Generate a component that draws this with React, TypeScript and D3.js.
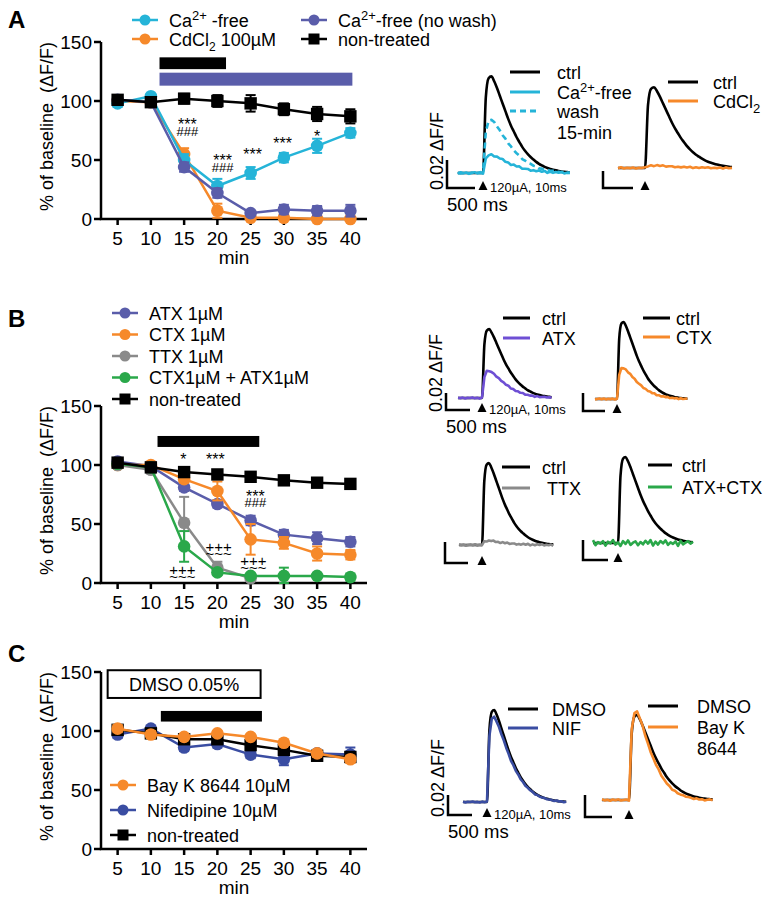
import React from 'react';
import * as d3 from 'd3';

const FONT = "'Liberation Sans', Arial, Helvetica, sans-serif";

// ---------------- time-course data ----------------
const MINUTES = [5, 10, 15, 20, 25, 30, 35, 40];
const X_TICKS = [5, 10, 15, 20, 25, 30, 35, 40];
const Y_TICKS = [0, 50, 100, 150];

// Panel A
const A_CAFREE = [98, 104, 50, 28, 39, 52, 62, 73];
const A_CAFREE_ERR = [3, 2, 5, 6, 5, 4, 6, 4];
const A_CDCL2 = [100, 99, 55, 7, 1, 1, 0, 0];
const A_CDCL2_ERR = [2, 2, 5, 6, 2, 2, 1, 1];
const A_NOWASH = [101, 99, 44, 22, 5, 8, 7, 7];
const A_NOWASH_ERR = [3, 2, 4, 4, 2, 4, 4, 5];
const A_NONTREATED = [101, 99, 102, 100, 98, 93, 89, 87];
const A_NONTREATED_ERR = [3, 2, 4, 5, 7, 5, 6, 6];

// Panel B
const B_ATX = [103, 99, 81, 67, 53, 41, 38, 35];
const B_ATX_ERR = [2, 2, 3, 3, 4, 4, 5, 4];
const B_CTX = [100, 100, 88, 78, 37, 34, 25, 24];
const B_CTX_ERR = [2, 2, 3, 8, 13, 5, 6, 4];
const B_TTX = [100, 96, 51, 13, 4];
const B_TTX_ERR = [2, 3, 22, 5, 2];
const B_COMBO = [101, 98, 31, 9, 6, 6, 6, 5];
const B_COMBO_ERR = [3, 2, 13, 2, 2, 7, 2, 3];
const B_NONTREATED = [102, 98, 94, 92, 90, 87, 85, 84];
const B_NONTREATED_ERR = [2, 2, 3, 3, 2, 2, 3, 3];

// Panel C
const C_BAYK = [102, 97, 95, 98, 95, 90, 81, 76];
const C_BAYK_ERR = [3, 3, 2, 2, 2, 2, 3, 3];
const C_NIF = [97, 102, 86, 89, 80, 76, 81, 80];
const C_NIF_ERR = [3, 2, 3, 3, 3, 5, 3, 6];
const C_NONTREATED = [101, 98, 93, 93, 88, 84, 79, 78];
const C_NONTREATED_ERR = [2, 2, 2, 2, 2, 3, 3, 3];

// ---------------- example traces (ΔF/F) ----------------
const TRACE_T = d3.range(-500, 1701, 50);
const CTRL_SHAPE = [0, 0, 0, 0, 0, 0, 0, 0, 0, 0, 0,
  0.78, 0.98, 1.0, 0.95, 0.88, 0.80, 0.72, 0.64, 0.56, 0.49,
  0.43, 0.37, 0.32, 0.27, 0.23, 0.195, 0.165, 0.14, 0.115, 0.095,
  0.078, 0.064, 0.052, 0.042, 0.034, 0.027, 0.021, 0.016, 0.012, 0.009,
  0.006, 0.004, 0.002, 0.001];
const FAST_SHAPE = [0, 0, 0, 0, 0, 0, 0, 0, 0, 0, 0,
  0.80, 0.99, 1.0, 0.93, 0.84, 0.74, 0.64, 0.55, 0.47, 0.40,
  0.34, 0.28, 0.23, 0.19, 0.155, 0.125, 0.10, 0.08, 0.063, 0.05,
  0.039, 0.03, 0.023, 0.017, 0.012, 0.008, 0.005, 0.003, 0.002, 0.001,
  0, 0, 0, 0];
const TRACE_NOISE = [0.2, -0.6, 0.8, -0.3, 0.5, -0.9, 0.1, 0.7, -0.4, 0.9, -0.7, 0.3, -0.2, 0.6, -0.8, 0.4,
  -0.1, 0.9, -0.5, 0.2, -0.9, 0.6, -0.3, 0.8, -0.6, 0.1, 0.5, -0.7, 0.3, -0.4, 0.7, -0.2, 0.9, -0.8,
  0.4, -0.5, 0.6, -0.1, 0.8, -0.6, 0.2, -0.3, 0.5, -0.9, 0.7, -0.4, 0.1, 0.6, -0.2, 0.4];

const A1_AMPS = [0.069, 0.013, 0.038]; // ctrl, Ca-free, wash
const A2_AMPS = [0.095, 0.003]; // ctrl, CdCl2
const B1_AMPS = [0.081, 0.032]; // ctrl, ATX
const B2_AMPS = [0.0856, 0.0344]; // ctrl, CTX
const B3_AMPS = [0.078, 0.004]; // ctrl, TTX
const B4_AMPS = [0.086, 0]; // ctrl, ATX+CTX
const C1_AMPS = [0.092, 0.085]; // DMSO, NIF
const C2_AMPS = [0.0773, 0.080]; // DMSO, Bay K

// ---------------- colours ----------------
const BLACK = '#000000';
const CYAN = '#25B4D8';
const ORANGE = '#F6892A';
const PURPLE = '#5A5DAA';
const GRAY = '#8A8A8A';
const GREEN = '#2AA84A';
const BLUE = '#3A4DA2';
const VIOLET = '#6E4FD4';

// ---------------- layout ----------------
const AX_LEFT = 101;
const AX_RIGHT = 367;
const PLOT_H = 177;

function caFree(gap: boolean, rest: string, size: number) {
  return [
    <tspan key="a">Ca</tspan>,
    <tspan key="b" dy={-7} fontSize={size * 0.72}>2+</tspan>,
    <tspan key="c" dy={7}>{(gap ? '\u00A0-free' : '-free') + rest}</tspan>,
  ];
}

function Marker({ kind, cx, cy, color, r }: any) {
  if (kind === 'square') {
    return <rect x={cx - r} y={cy - r} width={2 * r} height={2 * r} fill={color} />;
  }
  return <circle cx={cx} cy={cy} r={r} fill={color} />;
}

function glyphOffset(c: string) {
  return c === '*' ? 0.62 : c === '#' ? 0.36 : c === '+' ? 0.34 : 0.3;
}

function TimePlot({ y0, series, bars, box, annos }: any) {
  const x = d3.scaleLinear().domain([2.5, 42.5]).range([AX_LEFT, AX_RIGHT]);
  const y = d3.scaleLinear().domain([0, 150]).range([y0, y0 - PLOT_H]);
  const line = d3.line<number>().x((_, i) => x(MINUTES[i])).y((d) => y(d));
  return (
    <g>
      {(bars || []).map((b: any, i: number) => (
        <rect key={'bar' + i} x={x(b.from)} y={y(b.top)} width={x(b.to) - x(b.from)}
          height={y(b.bottom) - y(b.top)} fill={b.color} />
      ))}
      {box && (
        <g>
          <rect x={x(box.from)} y={y(box.top)} width={x(box.to) - x(box.from)}
            height={y(box.bottom) - y(box.top)} fill="#fff" stroke="#000" strokeWidth={2} />
          <text x={(x(box.from) + x(box.to)) / 2} y={(y(box.top) + y(box.bottom)) / 2 + 6.5}
            textAnchor="middle" fontSize={18}>{box.label}</text>
        </g>
      )}
      <line x1={AX_LEFT - 1.25} x2={AX_RIGHT} y1={y0} y2={y0} stroke="#000" strokeWidth={2.5} />
      <line x1={AX_LEFT} x2={AX_LEFT} y1={y0} y2={y(150)} stroke="#000" strokeWidth={2.5} />
      {Y_TICKS.map((t) => (
        <g key={'yt' + t}>
          <line x1={AX_LEFT - 7} x2={AX_LEFT} y1={y(t)} y2={y(t)} stroke="#000" strokeWidth={2.5} />
          <text x={AX_LEFT - 9} y={y(t) + 7} textAnchor="end" fontSize={19}>{t}</text>
        </g>
      ))}
      {X_TICKS.map((t) => (
        <g key={'xt' + t}>
          <line x1={x(t)} x2={x(t)} y1={y0} y2={y0 + 6} stroke="#000" strokeWidth={2.5} />
          <text x={x(t)} y={y0 + 26} textAnchor="middle" fontSize={19}>{t}</text>
        </g>
      ))}
      <text x={234} y={y0 + 45} textAnchor="middle" fontSize={19}>min</text>
      <text transform={`translate(53,${y0 - PLOT_H / 2 - 4}) rotate(-90)`} textAnchor="middle" fontSize={18}>
        {'% of baseline\u00A0\u00A0(ΔF/F)'}
      </text>
      {series.map((s: any) => (
        <g key={s.name}>
          <path d={line(s.values) || ''} fill="none" stroke={s.color} strokeWidth={2.5} />
          {s.values.map((v: number, i: number) => {
            const e = s.err[i];
            const cx = x(MINUTES[i]);
            const lo = Math.max(0, v - e);
            return (
              <g key={'e' + i} stroke={s.color} strokeWidth={2}>
                <line x1={cx} x2={cx} y1={y(lo)} y2={y(v + e)} />
                <line x1={cx - 5} x2={cx + 5} y1={y(v + e)} y2={y(v + e)} />
                <line x1={cx - 5} x2={cx + 5} y1={y(lo)} y2={y(lo)} />
              </g>
            );
          })}
          {s.values.map((v: number, i: number) => (
            <Marker key={'m' + i} kind={s.marker} cx={x(MINUTES[i])} cy={y(v)} color={s.color} r={s.marker === 'square' ? 6.2 : 6.3} />
          ))}
        </g>
      ))}
      {(annos || []).map((a: any, i: number) => (
        <text key={'an' + i} x={x(a.x)} textAnchor="middle">
          {a.lines.map((l: any, j: number) => (
            <tspan key={j} x={x(a.x)} y={y(l.y) + l.size * glyphOffset(l.text[0])} fontSize={l.size}>{l.text}</tspan>
          ))}
        </text>
      ))}
    </g>
  );
}

function PlotLegend({ items }: any) {
  return (
    <g>
      {items.map((it: any, i: number) => (
        <g key={i}>
          <line x1={it.x} x2={it.x + 26} y1={it.y} y2={it.y} stroke={it.color} strokeWidth={2.5} />
          <Marker kind={it.marker} cx={it.x + 13} cy={it.y} color={it.color} r={5.5} />
          <text x={it.x + 37} y={it.y + 6.5} fontSize={18}>{it.label}</text>
        </g>
      ))}
    </g>
  );
}

function TracePanel({ cfg }: any) {
  const x = d3.scaleLinear().domain([0, 500]).range([cfg.onset, cfg.onset + cfg.barW]);
  const y = d3.scaleLinear().domain([0, 0.02]).range([cfg.base, cfg.base - cfg.barH]);
  const [cx, cy] = cfg.corner;
  return (
    <g>
      {cfg.traces.map((tr: any, k: number) => {
        const pts: [number, number][] = [];
        TRACE_T.forEach((t, i) => {
          if (t < cfg.t0 || t > cfg.t1) return;
          const n = TRACE_NOISE[(i + (tr.offset || 0)) % TRACE_NOISE.length] * (tr.noise || 0);
          pts.push([x(t), y(tr.amp * tr.shape[i] + n)]);
        });
        const gen = d3.line().curve(tr.noise ? d3.curveLinear : d3.curveMonotoneX);
        return (
          <path key={k} d={gen(pts) || ''} fill="none" stroke={tr.color} strokeWidth={2.6}
            strokeDasharray={tr.dash ? '6,4' : undefined} strokeLinejoin="round" />
        );
      })}
      <path d={`M${cx},${cy - cfg.barH}V${cy}H${cx + cfg.barW}`} fill="none" stroke="#000" strokeWidth={2.5} />
      <path d={`M${cfg.onset},${cy - 7}L${cfg.onset + 4.5},${cy + 2}L${cfg.onset - 4.5},${cy + 2}Z`} fill="#000" />
      {cfg.stimLabel && (
        <text x={cfg.onset + 7} y={cy + 3.5} fontSize={13}>120µA, 10ms</text>
      )}
      {cfg.scaleLabel && (
        <g>
          <text transform={`translate(${cx - 4},${cy + 2}) rotate(-90)`} fontSize={18}>0.02 ΔF/F</text>
          <text x={cx} y={cy + 23} fontSize={18.5}>500 ms</text>
        </g>
      )}
      {cfg.legend.rows.map((r: any, i: number) => (
        <g key={'lg' + i}>
          {r.color && (
            <line x1={cfg.legend.x0} x2={cfg.legend.x1} y1={r.y} y2={r.y} stroke={r.color}
              strokeWidth={3} strokeDasharray={r.dash ? '6,4' : undefined} />
          )}
          <text x={cfg.legend.tx + (r.dx || 0)} y={r.y + 6.5} fontSize={18}>{r.label}</text>
        </g>
      ))}
    </g>
  );
}

const TRACE_PANELS = [
  {
    onset: 483, base: 173, corner: [447, 188], barW: 28, barH: 28, t0: -450, t1: 1550,
    stimLabel: true, scaleLabel: true,
    traces: [
      { shape: CTRL_SHAPE, amp: A1_AMPS[0], color: BLACK },
      { shape: CTRL_SHAPE, amp: A1_AMPS[2], color: CYAN, dash: true, noise: 0.0004, offset: 3 },
      { shape: CTRL_SHAPE, amp: A1_AMPS[1], color: CYAN, noise: 0.0007, offset: 0 },
    ],
    legend: {
      x0: 510, x1: 540, tx: 557, rows: [
        { y: 72, color: BLACK, label: 'ctrl' },
        { y: 92, color: CYAN, label: caFree(false, '', 18) },
        { y: 111, color: CYAN, dash: true, label: 'wash' },
        { y: 132, label: '15-min' },
      ],
    },
  },
  {
    onset: 645, base: 168, corner: [603, 188], barW: 30, barH: 17, t0: -450, t1: 1450,
    traces: [
      { shape: CTRL_SHAPE, amp: A2_AMPS[0], color: BLACK },
      { shape: CTRL_SHAPE, amp: A2_AMPS[1], color: ORANGE, noise: 0.0009, offset: 7 },
    ],
    legend: {
      x0: 668, x1: 698, tx: 713, rows: [
        { y: 82, color: BLACK, label: 'ctrl' },
        { y: 101, color: ORANGE, label: [<tspan key="a">CdCl</tspan>, <tspan key="b" dy={5} fontSize={13}>2</tspan>] },
      ],
    },
  },
  {
    onset: 482, base: 398, corner: [446, 410], barW: 24, barH: 17, t0: -500, t1: 1450,
    stimLabel: true, scaleLabel: true,
    traces: [
      { shape: CTRL_SHAPE, amp: B1_AMPS[0], color: BLACK },
      { shape: CTRL_SHAPE, amp: B1_AMPS[1], color: VIOLET, noise: 0.0008, offset: 11 },
    ],
    legend: {
      x0: 503, x1: 530, tx: 542, rows: [
        { y: 318, color: BLACK, label: 'ctrl' },
        { y: 338, color: VIOLET, label: 'ATX' },
      ],
    },
  },
  {
    onset: 617, base: 399, corner: [583, 411], barW: 22, barH: 18, t0: -700, t1: 1600,
    traces: [
      { shape: CTRL_SHAPE, amp: B2_AMPS[0], color: BLACK },
      { shape: CTRL_SHAPE, amp: B2_AMPS[1], color: ORANGE, noise: 0.0007, offset: 5 },
    ],
    legend: {
      x0: 643, x1: 670, tx: 676, rows: [
        { y: 318, color: BLACK, label: 'ctrl' },
        { y: 337, color: ORANGE, label: 'CTX' },
      ],
    },
  },
  {
    onset: 482, base: 545, corner: [445, 563], barW: 23, barH: 21, t0: -500, t1: 1550,
    traces: [
      { shape: CTRL_SHAPE, amp: B3_AMPS[0], color: BLACK },
      { shape: CTRL_SHAPE, amp: B3_AMPS[1], color: GRAY, noise: 0.0008, offset: 2 },
    ],
    legend: {
      x0: 502, x1: 530, tx: 542, rows: [
        { y: 467, color: BLACK, label: 'ctrl' },
        { y: 488, color: GRAY, label: 'TTX', dx: 5 },
      ],
    },
  },
  {
    onset: 618, base: 543, corner: [583, 560], barW: 25, barH: 20, t0: -500, t1: 1500,
    traces: [
      { shape: CTRL_SHAPE, amp: B4_AMPS[0], color: BLACK },
      { shape: CTRL_SHAPE, amp: B4_AMPS[1], color: GREEN, noise: 0.0032, offset: 9 },
    ],
    legend: {
      x0: 648, x1: 672, tx: 682, rows: [
        { y: 465, color: BLACK, label: 'ctrl' },
        { y: 487, color: GREEN, label: 'ATX+CTX' },
      ],
    },
  },
  {
    onset: 487, base: 802, corner: [448, 815], barW: 24, barH: 20, t0: -500, t1: 1650,
    stimLabel: true, scaleLabel: true,
    traces: [
      { shape: CTRL_SHAPE, amp: C1_AMPS[0], color: BLACK },
      { shape: CTRL_SHAPE, amp: C1_AMPS[1], color: BLUE, noise: 0.0006, offset: 13 },
    ],
    legend: {
      x0: 508, x1: 538, tx: 552, rows: [
        { y: 709, color: BLACK, label: 'DMSO' },
        { y: 728, color: BLUE, label: 'NIF' },
      ],
    },
  },
  {
    onset: 629, base: 800, corner: [585, 817], barW: 27, barH: 22, t0: -500, t1: 1550,
    traces: [
      { shape: CTRL_SHAPE, amp: C2_AMPS[0], color: BLACK },
      { shape: FAST_SHAPE, amp: C2_AMPS[1], color: ORANGE, noise: 0.0007, offset: 17 },
    ],
    legend: {
      x0: 648, x1: 678, tx: 697, rows: [
        { y: 706, color: BLACK, label: 'DMSO' },
        { y: 727, color: ORANGE, label: 'Bay K' },
        { y: 748, label: '8644' },
      ],
    },
  },
];

export default function App() {
  const seriesA = [
    { name: 'cd', values: A_CDCL2, err: A_CDCL2_ERR, color: ORANGE, marker: 'circle' },
    { name: 'cafree', values: A_CAFREE, err: A_CAFREE_ERR, color: CYAN, marker: 'circle' },
    { name: 'nowash', values: A_NOWASH, err: A_NOWASH_ERR, color: PURPLE, marker: 'circle' },
    { name: 'nt', values: A_NONTREATED, err: A_NONTREATED_ERR, color: BLACK, marker: 'square' },
  ];
  const seriesB = [
    { name: 'atx', values: B_ATX, err: B_ATX_ERR, color: PURPLE, marker: 'circle' },
    { name: 'ctx', values: B_CTX, err: B_CTX_ERR, color: ORANGE, marker: 'circle' },
    { name: 'ttx', values: B_TTX, err: B_TTX_ERR, color: GRAY, marker: 'circle' },
    { name: 'combo', values: B_COMBO, err: B_COMBO_ERR, color: GREEN, marker: 'circle' },
    { name: 'nt', values: B_NONTREATED, err: B_NONTREATED_ERR, color: BLACK, marker: 'square' },
  ];
  const seriesC = [
    { name: 'nif', values: C_NIF, err: C_NIF_ERR, color: BLUE, marker: 'circle' },
    { name: 'nt', values: C_NONTREATED, err: C_NONTREATED_ERR, color: BLACK, marker: 'square' },
    { name: 'bayk', values: C_BAYK, err: C_BAYK_ERR, color: ORANGE, marker: 'circle' },
  ];
  const annosA = [
    { x: 15.5, lines: [{ y: 84, text: '***', size: 16 }, { y: 74, text: '###', size: 13 }] },
    { x: 20.8, lines: [{ y: 53, text: '***', size: 16 }, { y: 44, text: '###', size: 13 }] },
    { x: 25.3, lines: [{ y: 58, text: '***', size: 16 }] },
    { x: 29.8, lines: [{ y: 68, text: '***', size: 16 }] },
    { x: 35, lines: [{ y: 74, text: '*', size: 16 }] },
  ];
  const annosB = [
    { x: 14.9, lines: [{ y: 108, text: '*', size: 16 }] },
    { x: 19.7, lines: [{ y: 108, text: '***', size: 16 }] },
    { x: 25.7, lines: [{ y: 77, text: '***', size: 16 }, { y: 68, text: '###', size: 13 }] },
    { x: 20.2, lines: [{ y: 31, text: '+++', size: 15 }, { y: 24.5, text: '~~~', size: 15 }] },
    { x: 25.4, lines: [{ y: 19, text: '+++', size: 15 }, { y: 12.5, text: '~~~', size: 15 }] },
    { x: 14.75, lines: [{ y: 11, text: '+++', size: 15 }, { y: 4.5, text: '~~~', size: 15 }] },
  ];
  return (
    <svg width={768} height={899} style={{ position: 'absolute', left: 0, top: 0 }} fontFamily={FONT}>
      <rect width={768} height={899} fill="#fff" />
      {/* Panel letters */}
      <text x={8} y={28} fontSize={24} fontWeight="bold">A</text>
      <text x={8} y={327} fontSize={24} fontWeight="bold">B</text>
      <text x={8} y={662} fontSize={24} fontWeight="bold">C</text>

      {/* Panel A */}
      <TimePlot y0={219} series={seriesA} annos={annosA}
        bars={[
          { from: 11.3, to: 21.3, top: 137, bottom: 127, color: BLACK },
          { from: 11.3, to: 40.3, top: 124, bottom: 113, color: PURPLE },
        ]} />
      <PlotLegend items={[
        { x: 132, y: 20, color: CYAN, marker: 'circle', label: caFree(true, '', 18) },
        { x: 132, y: 39, color: ORANGE, marker: 'circle', label: [<tspan key="a">CdCl</tspan>, <tspan key="b" dy={5} fontSize={12}>2</tspan>, <tspan key="c" dy={-5}>{'\u00A0100µM'}</tspan>] },
        { x: 301, y: 20, color: PURPLE, marker: 'circle', label: caFree(false, ' (no wash)', 18) },
        { x: 301, y: 39, color: BLACK, marker: 'square', label: 'non-treated' },
      ]} />

      {/* Panel B */}
      <TimePlot y0={583} series={seriesB} annos={annosB}
        bars={[{ from: 11, to: 26.3, top: 124.6, bottom: 115.3, color: BLACK }]} />
      <PlotLegend items={[
        { x: 112, y: 313, color: PURPLE, marker: 'circle', label: 'ATX 1µM' },
        { x: 112, y: 334.5, color: ORANGE, marker: 'circle', label: 'CTX 1µM' },
        { x: 112, y: 356, color: GRAY, marker: 'circle', label: 'TTX 1µM' },
        { x: 112, y: 377.5, color: GREEN, marker: 'circle', label: 'CTX1µM + ATX1µM' },
        { x: 112, y: 399, color: BLACK, marker: 'square', label: 'non-treated' },
      ]} />

      {/* Panel C */}
      <TimePlot y0={849} series={seriesC}
        bars={[{ from: 11.5, to: 26.7, top: 117, bottom: 108, color: BLACK }]}
        box={{ from: 3.5, to: 26.5, top: 151.5, bottom: 128, label: 'DMSO 0.05%' }} />
      <PlotLegend items={[
        { x: 110, y: 785, color: ORANGE, marker: 'circle', label: 'Bay K 8644 10µM' },
        { x: 110, y: 810, color: BLUE, marker: 'circle', label: 'Nifedipine 10µM' },
        { x: 110, y: 835, color: BLACK, marker: 'square', label: 'non-treated' },
      ]} />

      {/* Example traces */}
      {TRACE_PANELS.map((cfg, i) => <TracePanel key={i} cfg={cfg} />)}
    </svg>
  );
}
